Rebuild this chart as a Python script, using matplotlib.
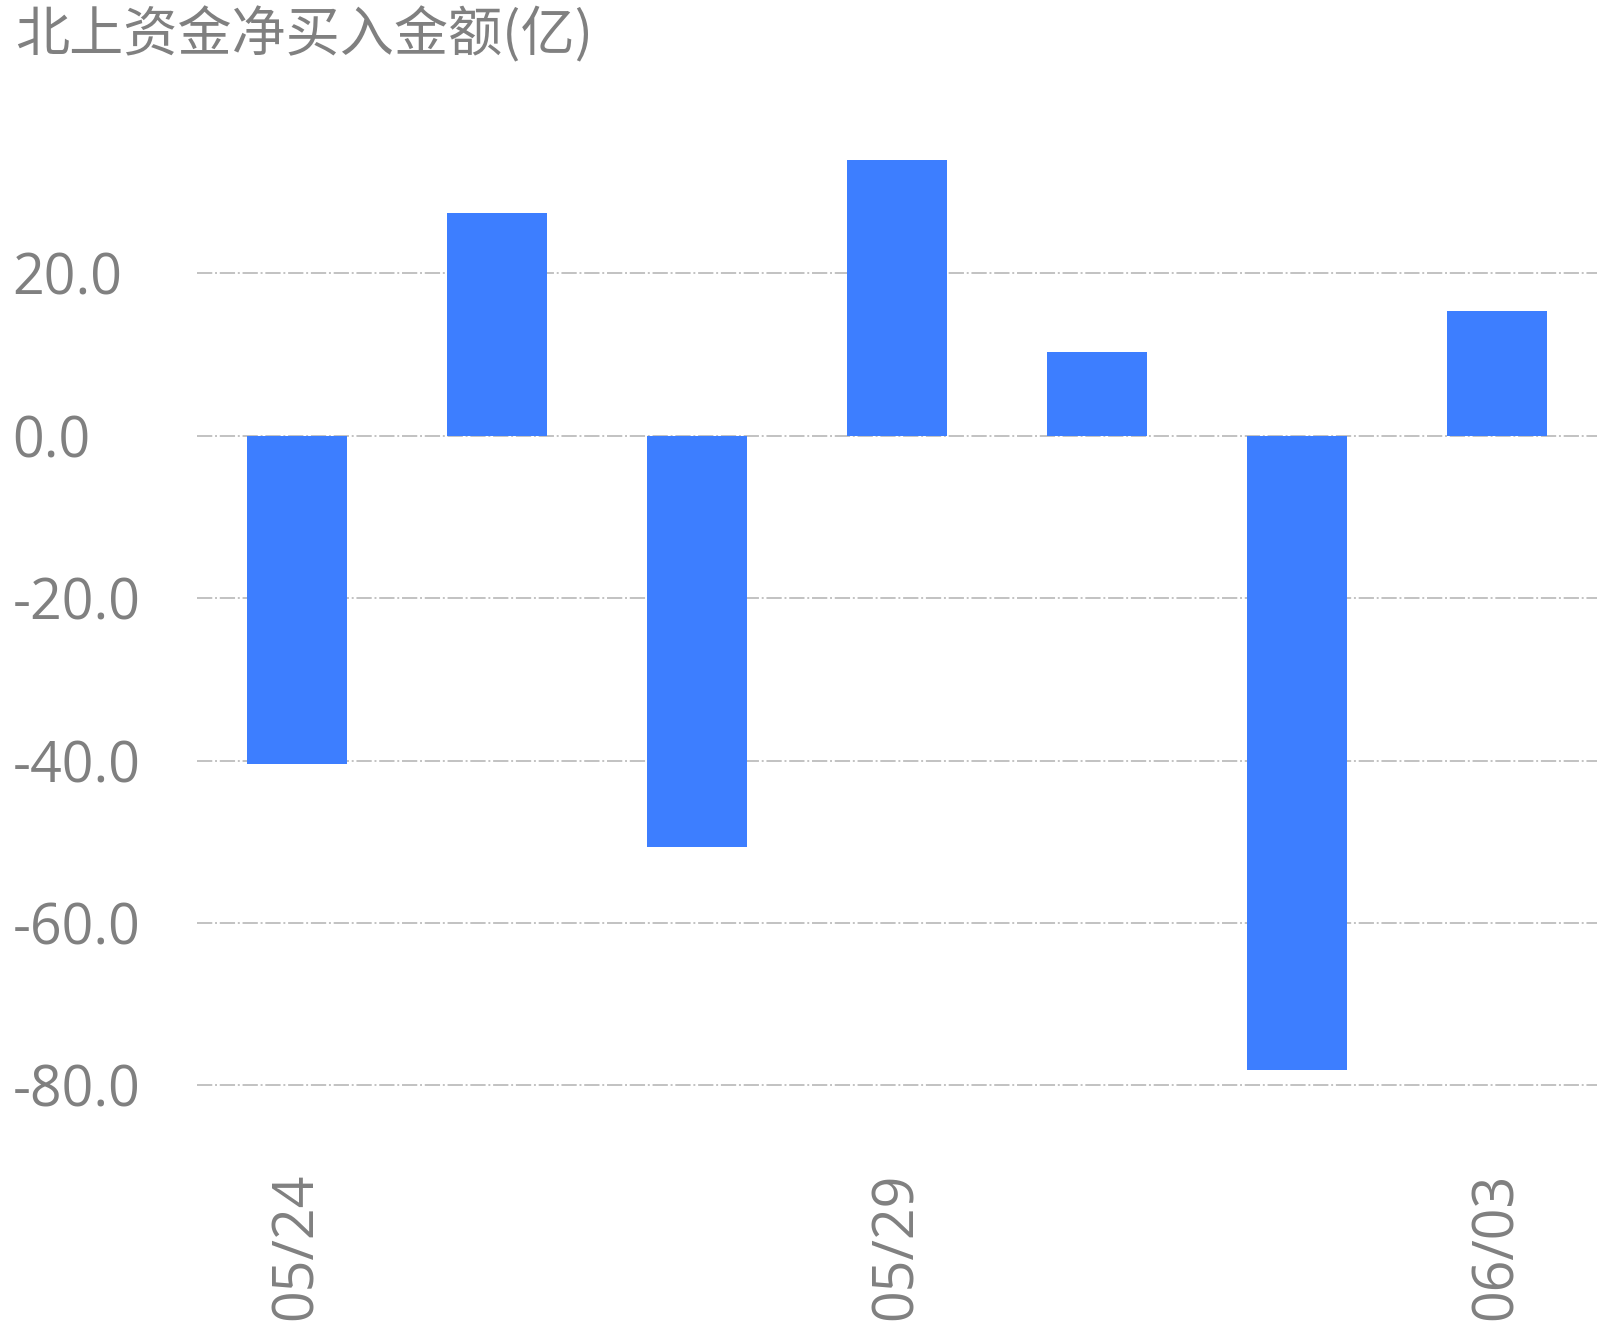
import matplotlib
matplotlib.use("Agg")
import matplotlib.pyplot as plt
import numpy as np

plt.rcParams['font.family'] = ['Open Sans', 'Noto Sans CJK SC', 'DejaVu Sans']
plt.rcParams['axes.unicode_minus'] = False
plt.rcParams['lines.scale_dashes'] = False

# data
dates = ['05/24', '05/27', '05/28', '05/29', '05/30', '05/31', '06/03']
net_buy = [-40.4, 27.4, -50.6, 34.0, 10.3, -78.1, 15.4]
shown_dates = ['05/24', '05/29', '06/03']
y_ticks = [20.0, 0.0, -20.0, -40.0, -60.0, -80.0]

gray = '#808080'
bar_color = '#3d7eff'

fig = plt.figure(figsize=(16.06, 13.30), dpi=100)
ax = fig.add_axes([197 / 1606, 1 - 1125.9 / 1330, 1400 / 1606, (1125.9 - 70.3) / 1330])

x = np.arange(len(dates))
ax.bar(x, net_buy, width=0.5, color=bar_color, zorder=2)

ax.set_xlim(-0.5, len(dates) - 0.5)
ax.set_ylim(-85, 45)

ax.set_yticks(y_ticks)
ax.set_yticklabels([f"{v:.1f}" for v in y_ticks])
ax.yaxis.grid(True, color='#c2c2c2', linewidth=1.4,
              linestyle=(0, (11, 2.0, 1.4, 2.0)), zorder=1)
ax.tick_params(axis='y', length=0, pad=133, labelsize=40, labelcolor=gray)
for lbl in ax.get_yticklabels():
    lbl.set_horizontalalignment('left')

tick_pos = [dates.index(d) for d in shown_dates]
ax.set_xticks(tick_pos)
ax.set_xticklabels(shown_dates, rotation=90)
ax.tick_params(axis='x', length=0, pad=34, labelsize=40, labelcolor=gray)

for s in ax.spines.values():
    s.set_visible(False)

fig.text(15 / 1606, 1 - 35 / 1330, '北上资金净买入金额(亿)', fontsize=39,
         color=gray, ha='left', va='center',
         family=['Noto Sans CJK SC', 'DejaVu Sans'])

fig.savefig('out.png', dpi=100)
